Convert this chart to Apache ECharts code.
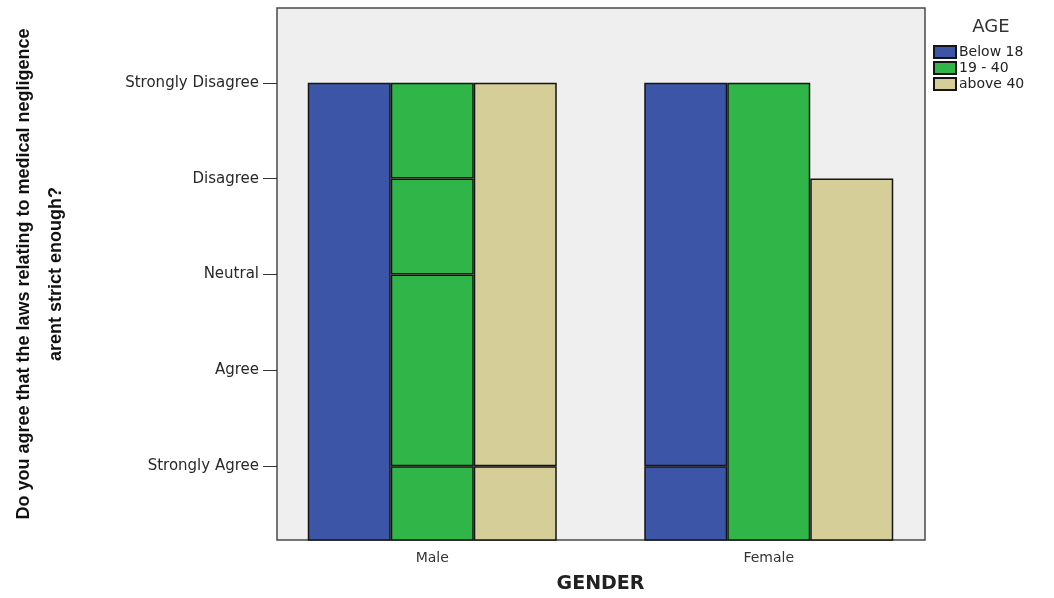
<!DOCTYPE html>
<html>
<head>
<meta charset="utf-8">
<script src="https://cdn.jsdelivr.net/npm/echarts@6/dist/echarts.min.js"></script>
<style>html,body{margin:0;padding:0;background:#fff}#c{width:1054px;height:598px}</style>
</head>
<body>
<div id="c"></div>
<script>
// ---- data ----
const genders = ['Male', 'Female'];
const ageGroups = ['Below 18', '19 - 40', 'above 40'];
const levels = ['Strongly Agree', 'Agree', 'Neutral', 'Disagree', 'Strongly Disagree'];
const levelValues = [1, 2, 3, 4, 5];
// segment tops (response level) for each gender [Male, Female]
const below18Tops = [[5], [1, 5]];
const age1940Tops = [[1, 3, 4, 5], [5]];
const above40Tops = [[1, 5], [4]];
const ageColors = ['#3d55a6', '#2fb548', '#d6ce98'];

const topsByAge = [below18Tops, age1940Tops, above40Tops];
const series = [];
topsByAge.forEach((tops, a) => {
  const nLayers = Math.max(...tops.map(t => t.length));
  for (let k = 0; k < nLayers; k++) {
    const data = tops.map(t => {
      if (k >= t.length) return null;
      const prev = k === 0 ? 0 : t[k - 1];
      return t[k] - prev;
    });
    series.push({
      name: ageGroups[a],
      type: 'bar',
      stack: 'age' + a,
      barWidth: 83,
      barGap: '0%',
      data: data,
      itemStyle: { color: ageColors[a], borderColor: '#151515', borderWidth: 1.5 },
      emphasis: { disabled: true }
    });
  }
});

const chart = echarts.init(document.getElementById('c'), null, { renderer: 'canvas' });
chart.setOption({
  animation: false,
  backgroundColor: '#ffffff',
  title: {
    text: 'AGE', left: 986, top: 13, textAlign: 'center',
    textStyle: { fontFamily: 'DejaVu Sans', fontSize: 18, fontWeight: 'normal', color: '#333' }
  },
  legend: {
    data: ageGroups,
    orient: 'vertical',
    left: 928, top: 40,
    icon: 'rect',
    itemWidth: 22, itemHeight: 12, itemGap: 2,
    textStyle: { fontFamily: 'DejaVu Sans', fontSize: 14, lineHeight: 14, color: '#222', padding: [0, 0, 0, -2] }
  },
  graphic: [{
    type: 'rect', z: 0, silent: true,
    shape: { x: 277, y: 8, width: 648, height: 532 },
    style: { fill: '#efefef', stroke: '#4a4a4a', lineWidth: 1.5 }
  }],
  grid: { left: 264, right: 117, top: 8, bottom: 58, outerBoundsMode: 'none', containLabel: false },
  xAxis: {
    type: 'category',
    data: genders,
    axisLine: { show: false },
    axisTick: { alignWithLabel: true, length: 7, lineStyle: { color: '#333', width: 1.5 } },
    axisLabel: { margin: 11, fontFamily: 'DejaVu Sans', fontSize: 14, color: '#333' },
    name: 'GENDER',
    nameLocation: 'middle',
    nameGap: 35,
    nameTextStyle: { fontFamily: 'DejaVu Sans', fontSize: 19, fontWeight: 'bold', color: '#222' }
  },
  yAxis: {
    type: 'value',
    min: 0.23, max: 5.78,
    offset: -13,
    splitLine: { show: false },
    axisLine: { show: false },
    axisTick: { show: true, customValues: levelValues, length: 14, lineStyle: { color: '#333', width: 1 } },
    axisLabel: {
      customValues: levelValues, margin: 18,
      formatter: v => levels[Math.round(v) - 1] || '',
      fontFamily: 'DejaVu Sans', fontSize: 15, color: '#282828'
    },
    name: 'Do you agree that the laws relating to medical negligence\narent strict enough?',
    nameLocation: 'middle',
    nameRotate: 90,
    nameGap: 205,
    nameTextStyle: {
      fontFamily: "'Liberation Sans', Arial, sans-serif",
      fontSize: 18, fontWeight: 'bold', color: '#111', lineHeight: 32, align: 'center'
    }
  },
  series: series
});
</script>
</body>
</html>
